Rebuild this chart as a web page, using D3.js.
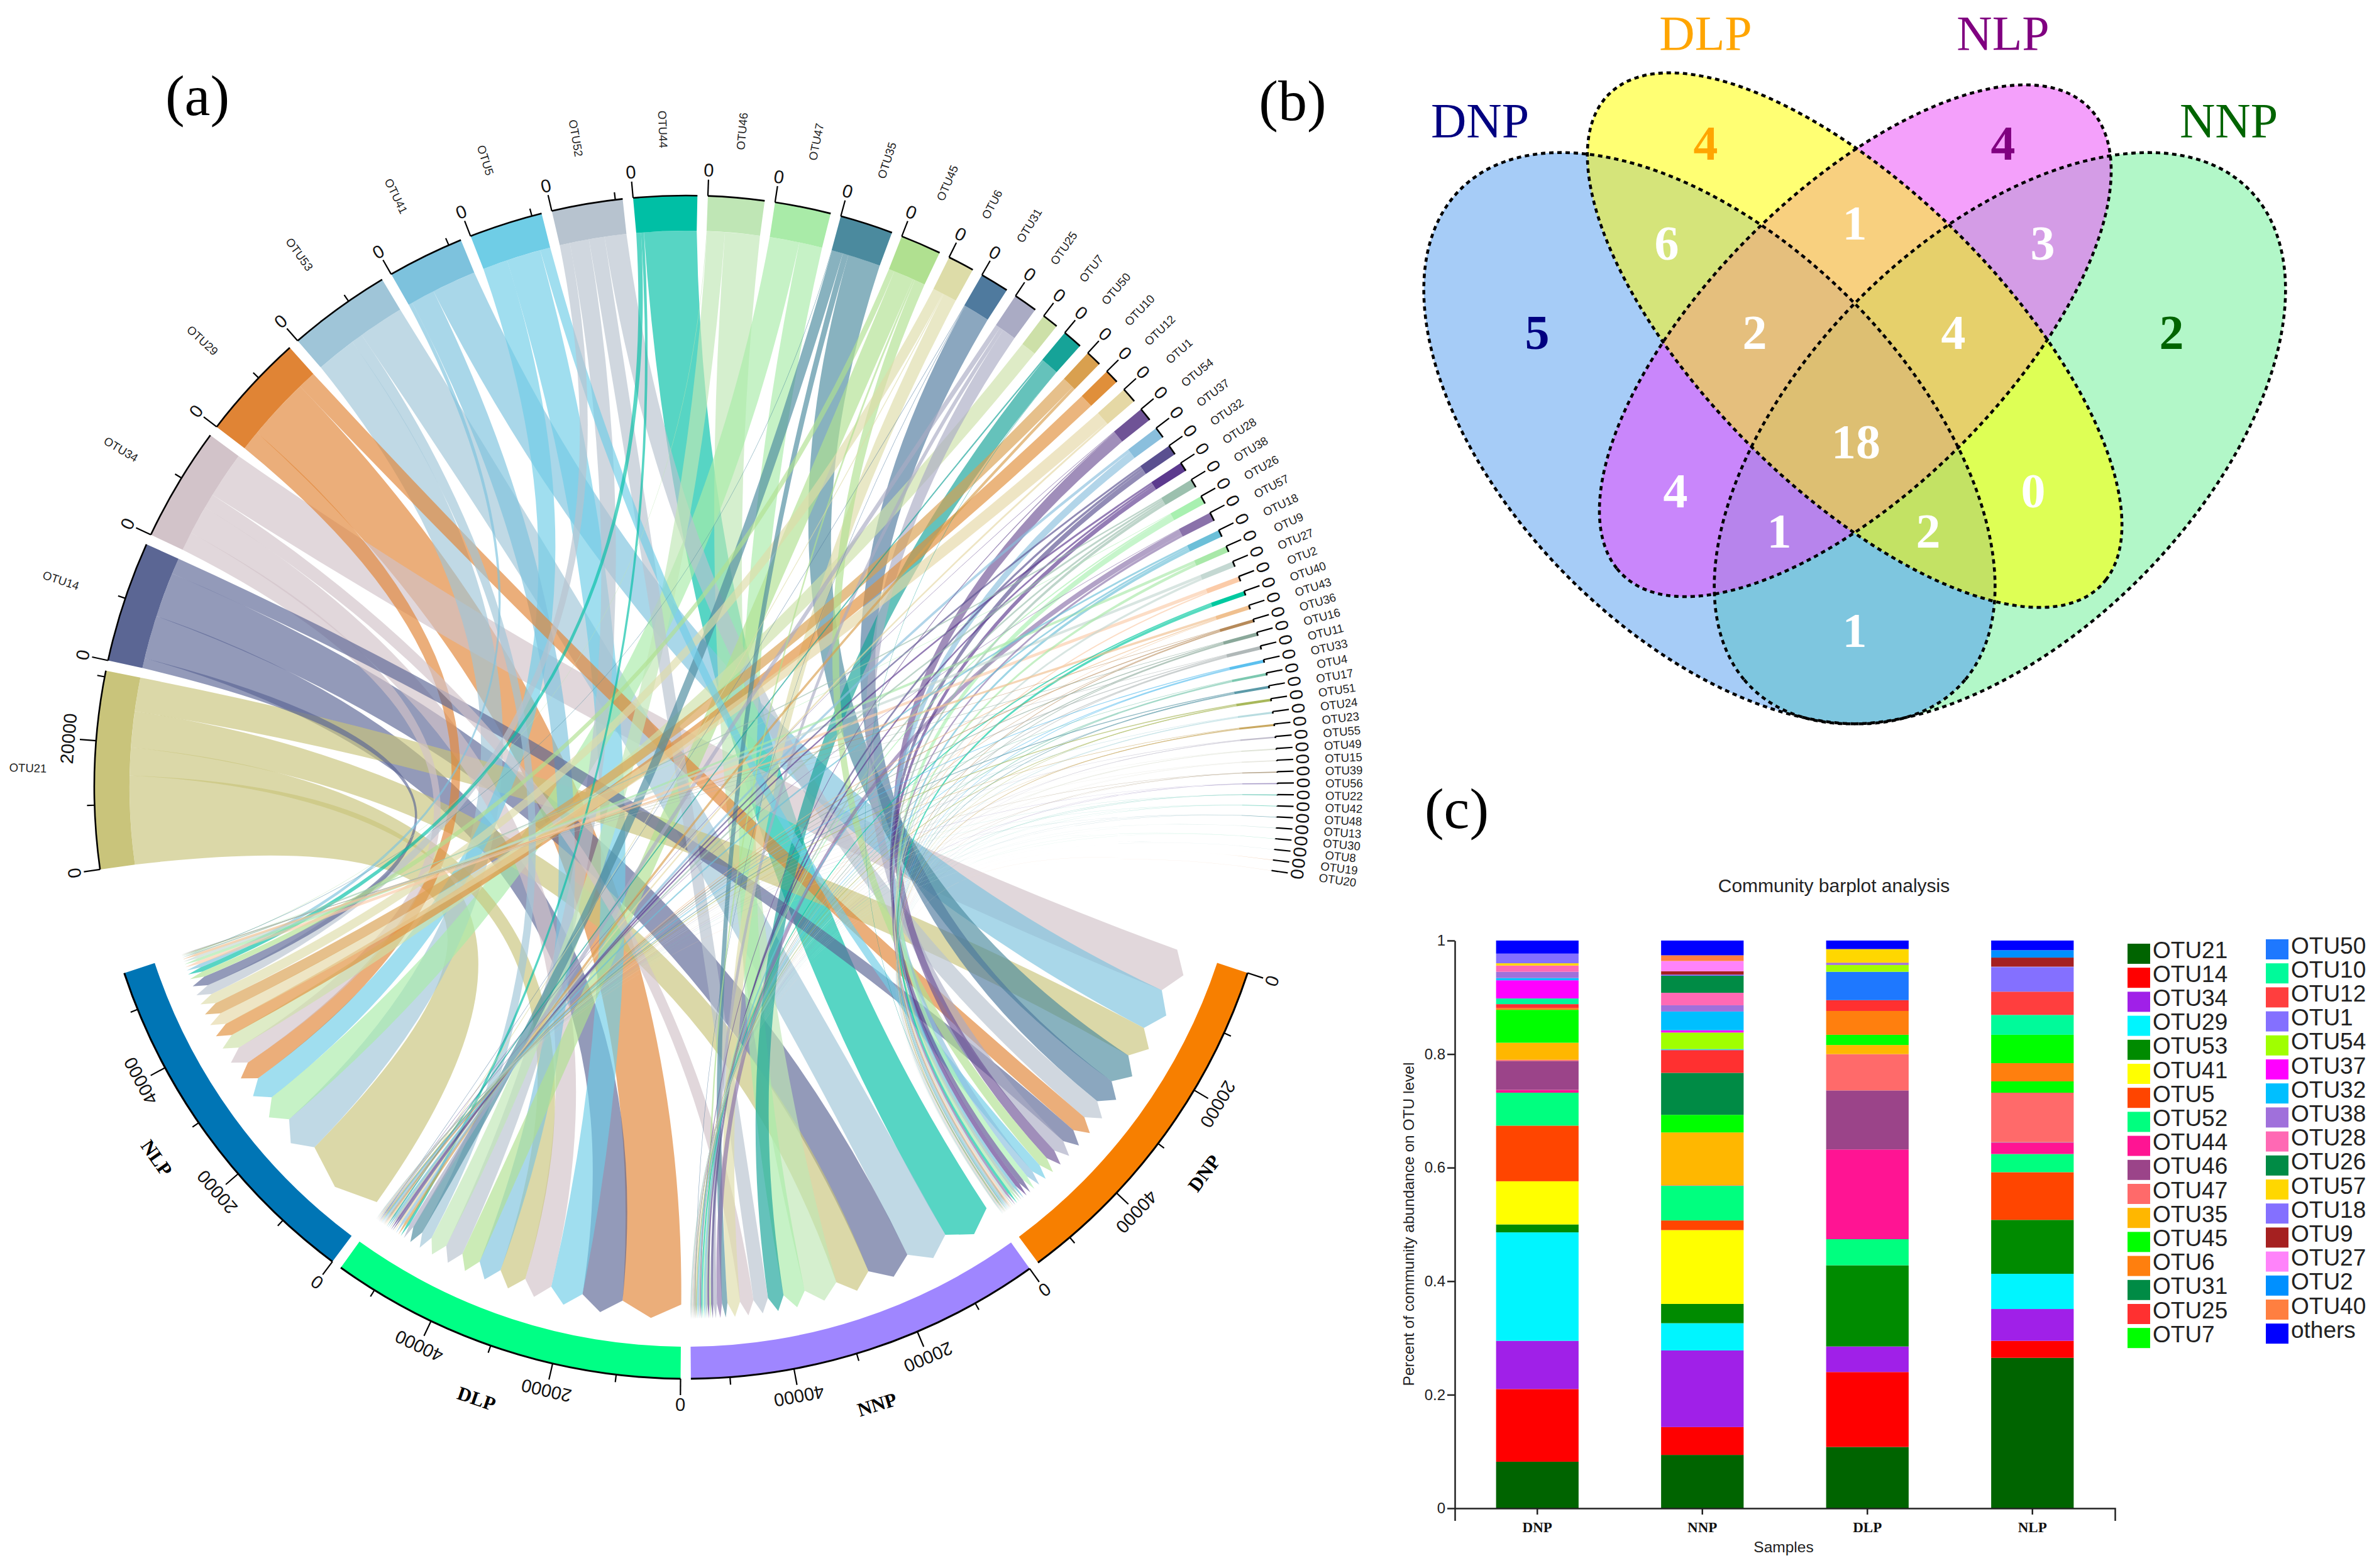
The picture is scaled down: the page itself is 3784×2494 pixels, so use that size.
<!DOCTYPE html>
<html><head><meta charset="utf-8">
<script src="https://cdn.jsdelivr.net/npm/d3@7/dist/d3.min.js"></script>
<style>html,body{margin:0;padding:0;background:#fff}svg{display:block}</style></head>
<body><svg id="c" width="3784" height="2494"></svg>
<script>
// ---------- panel (a) chord data ----------
const otuNames=["OTU21","OTU14","OTU34","OTU29","OTU53","OTU41","OTU5","OTU52","OTU44","OTU46","OTU47","OTU35","OTU45","OTU6","OTU31","OTU25","OTU7","OTU50","OTU10","OTU12","OTU1","OTU54","OTU37","OTU32","OTU28","OTU38","OTU26","OTU57","OTU18","OTU9","OTU27","OTU2","OTU40","OTU43","OTU36","OTU16","OTU11","OTU33","OTU4","OTU17","OTU51","OTU24","OTU23","OTU55","OTU49","OTU15","OTU39","OTU56","OTU22","OTU42","OTU48","OTU13","OTU30","OTU8","OTU19","OTU20"];
const otuColors=["#C9C47B","#5B6694","#D2C3C9","#E08435","#9FC5D8","#7DC2DD","#6FCDE6","#B7C3CF","#00BFA5","#BFE6B5","#A9EBA8","#4B8A9E","#B0E090","#DDDCA8","#4F7A9E","#AAABC4","#CDE0A8","#16A398","#D9A04F","#E08F3A","#E5D8A5","#6F5396","#8ABFDD","#5A5090","#5C3A8E","#9CC0AE","#A8F0B0","#8A72AA","#6CBFD8","#A8E8A8","#C4D8D2","#FBCBA8","#00C9A0","#F0C08F","#B68A5A","#8AA89A","#B0B8B8","#5CC0EE","#7CC8B0","#5C9AA8","#A8B85A","#B8DCE0","#C9A860","#C0BCCB","#E0E4D8","#E8E8E0","#B8A890","#A89CC8","#7CCFC0","#90DCCC","#8AB8C0","#D0E8E4","#C0EEDC","#D0E4E4","#F0C8A8","#F4DCC8"];
const dnpFlow=[5600,2650,7700,3000,0,7400,1700,3650,0,0,0,5450,1760,0,4350,2300,0,80,0,0,0,1900,1280,880,800,480,960,400,490,470,400,240,460,0,160,160,160,160,160,160,80,160,160,80,80,50,60,50,50,30,30,30,15,15,15,15];
const nnpFlow=[6000,7500,2400,0,7600,0,0,2600,8700,5800,3840,960,320,2240,80,640,0,2800,0,0,0,160,0,400,320,320,240,900,320,0,0,0,240,80,80,160,160,160,160,80,160,80,80,80,80,50,50,60,50,30,30,15,15,15,0,15];
const dlpFlow=[4640,7200,4800,10420,1900,4000,5700,3200,480,2960,0,1840,3360,160,80,800,0,240,480,0,320,80,480,320,320,320,0,100,320,0,0,0,0,160,160,160,160,160,80,160,160,80,80,80,30,60,50,50,30,30,15,15,15,0,15,0];
const nlpFlow=[14720,1650,3100,3300,6700,640,4160,1700,800,80,4960,80,960,1760,0,0,2560,0,2000,2240,2100,0,0,0,0,240,80,0,0,480,480,560,0,400,80,80,80,0,0,0,0,0,0,0,0,0,0,0,0,0,0,0,0,0,0,0];
const sampleNames=["DNP","NNP","DLP","NLP"];
const sampleColors=["#F77F00","#9F86FF","#00FF85","#0075B5"];
const sampleFlows=[dnpFlow,nnpFlow,dlpFlow,nlpFlow];
const tickStep=10000, labelStep=20000;

// ---------- panel (b) venn data ----------
const vennSets=["DNP","DLP","NLP","NNP"];
const vennLabelColors=["#000080","#FFA500","#800080","#006400"];
const vennRegionSets=[["DNP"],["DLP"],["NLP"],["NNP"],["DNP","DLP"],["DLP","NLP"],["NLP","NNP"],["DNP","NLP"],["DLP","NNP"],["DNP","NNP"],["DNP","DLP","NLP"],["DLP","NLP","NNP"],["DNP","NLP","NNP"],["DNP","DLP","NNP"],["DNP","DLP","NLP","NNP"]];
const vennRegionColors=["#A6CCF7","#FFFF73","#F4A0FB","#B2F7C8","#D5E47A","#F8D07F","#D49CE6","#C986FB","#DEFF55","#7EC6DF","#E5BF7D","#E6D06B","#B784EC","#C3E264","#DDBF72"];
const vennCounts=[5,4,4,2,6,1,3,4,0,1,2,4,1,2,18];

// ---------- panel (c) bar data ----------
const barSamples=["DNP","NNP","DLP","NLP"];
const barSeries=["OTU21","OTU14","OTU34","OTU29","OTU53","OTU41","OTU5","OTU52","OTU44","OTU46","OTU47","OTU35","OTU45","OTU6","OTU31","OTU25","OTU7","OTU50","OTU10","OTU12","OTU1","OTU54","OTU37","OTU32","OTU38","OTU28","OTU26","OTU57","OTU18","OTU9","OTU27","OTU2","OTU40","others"];
const barColors=["#006400","#FF0000","#A020E8","#00F5FF","#008B00","#FFFF00","#FF4500","#00FF7F","#FF1493","#9B4489","#FF6A6A","#FFB700","#00FF00","#FF7F0E","#008B45","#FF3030","#00FF00","#1E78FF","#00FA9A","#FF3E3E","#8470FF","#A0FF00","#FF00FF","#00BFFF","#A070DB","#FF69B4","#008B45","#FFD700","#8470FF","#A52020","#FF83FA","#0090FF","#FF7F40","#0000FF"];
const barDNP=[.082,.128,.085,.191,.014,.076,.098,.058,.005,.051,.002,.030,.058,.003,0,.007,0,0,.010,0,0,0,.032,.004,.011,.011,0,.004,.017,0,0,0,0,.023];
const barNNP=[.094,.049,.135,.048,.034,.130,.017,.061,0,0,.001,.093,.031,0,.074,.040,0,.001,.001,0,0,.029,.004,.033,.011,.022,.030,0,.002,.006,.018,0,.010,.026];
const barDLP=[.108,.132,.045,0,.143,0,0,.046,.158,.104,.064,.016,.018,.042,0,.019,0,.050,0,0,0,.012,0,0,.004,0,0,.024,0,0,0,0,0,.015];
const barNLP=[.265,.030,.056,.062,.095,0,.084,.032,.020,.001,.087,0,.020,.032,0,0,.050,0,.035,.041,.043,0,0,0,0,0,0,0,.001,.016,0,.013,0,.017];
const barValues=[barDNP,barNNP,barDLP,barNLP];
const barTicks=[0,.2,.4,.6,.8,1];

// ---------- drawing ----------
const svg=d3.select("#c");
const SANS="'Liberation Sans',Arial,sans-serif", SERIF="'Liberation Serif','Times New Roman',serif";
const rad=d=>d*Math.PI/180;

[["(a)",314,152],["(b)",2056,160],["(c)",2317,1286]].forEach(([t,x,y])=>
  svg.append("text").attr("x",x).attr("y",y).attr("text-anchor","middle").attr("dominant-baseline","central")
     .attr("font-family",SERIF).attr("font-size",92).attr("fill","#000").text(t));

// chord
const chord=svg.append("g").attr("transform","translate(1091,1252)");
const R=941, otuInner=885, sampleInner=890, linkBase=823, linkTip=846;
const degPerUnit=0.000625, otuGap=1.0135, sampleGap=1.0, otuStart=262, sampleStart=108.3;
const pt=(deg,r)=>[r*Math.sin(rad(deg)),-r*Math.cos(rad(deg))];

let sa=sampleStart;
const samples=sampleNames.map((n,i)=>{
  const total=d3.sum(sampleFlows[i]);
  const s={name:n,i,total,start:sa,end:sa+total*degPerUnit,color:sampleColors[i]};
  sa=s.end+sampleGap; return s;
});
let oa=otuStart;
const otus=otuNames.map((n,i)=>{
  const flows=sampleFlows.map(f=>f[i]);
  const total=d3.sum(flows);
  const o={name:n,i,flows,total,start:oa,end:oa+total*degPerUnit,color:otuColors[i]};
  oa=o.end+otuGap; return o;
});
const links=[];
otus.forEach(o=>{
  let a=o.start;
  [3,2,1,0].forEach(si=>{
    const v=o.flows[si]; if(!v) return;
    const w=v*degPerUnit;
    links.push({otu:o,si,v,a1:a,a2:a+w}); a+=w;
  });
});
samples.forEach(s=>{
  let b=s.start;
  links.filter(l=>l.si===s.i).sort((x,y)=>y.v-x.v).forEach(l=>{
    l.b1=b; l.b2=b+l.v*degPerUnit; b=l.b2;
  });
});
function linkPath(l){
  const p=d3.path();
  const a1=pt(l.a1,otuInner), a2=pt(l.a2,otuInner), b1=pt(l.b1,linkBase), b2=pt(l.b2,linkBase), tip=pt((l.b1+l.b2)/2,linkTip);
  // shared pull toward the centre, plus a spread that keeps the ribbon from pinching
  const mx=(a1[0]+a2[0]+b1[0]+b2[0])/4*0.06, my=(a1[1]+a2[1]+b1[1]+b2[1])/4*0.06;
  const sx=(a2[0]-a1[0]+b1[0]-b2[0])*0.13, sy=(a2[1]-a1[1]+b1[1]-b2[1])*0.13;
  p.moveTo(a1[0],a1[1]);
  p.arc(0,0,otuInner,rad(l.a1-90),rad(l.a2-90));
  p.quadraticCurveTo(mx+sx,my+sy,b1[0],b1[1]);
  p.lineTo(tip[0],tip[1]); p.lineTo(b2[0],b2[1]);
  p.quadraticCurveTo(mx-sx,my-sy,a1[0],a1[1]);
  p.closePath(); return p.toString();
}
chord.append("g").selectAll("path").data(links.slice().sort((x,y)=>y.v-x.v)).join("path")
  .attr("d",linkPath).attr("fill",l=>l.otu.color).attr("fill-opacity",.66);

const arcGen=d3.arc();
function band(sel,inner,outer){
  sel.attr("d",d=>arcGen({innerRadius:inner,outerRadius:outer,startAngle:rad(d.start),endAngle:rad(d.end)})).attr("fill",d=>d.color);
}
chord.append("g").selectAll("path").data(otus).join("path").call(band,otuInner,R);
chord.append("g").selectAll("path").data(samples).join("path").call(band,sampleInner,R);
function axis(d,isSample){
  const g=chord.append("g");
  const arcLine=d3.path(); arcLine.arc(0,0,R,rad(d.start-90),rad(d.end-90));
  g.append("path").attr("d",arcLine.toString()).attr("fill","none").attr("stroke","#000").attr("stroke-width",isSample?3:2.6);
  d3.range(0,d.total+1,tickStep).forEach(v=>{
    const a=d.start+v*degPerUnit, major=v%labelStep===0;
    const p0=pt(a,R), p1=pt(a,R+(major?26:12));
    g.append("line").attr("x1",p0[0]).attr("y1",p0[1]).attr("x2",p1[0]).attr("y2",p1[1]).attr("stroke","#000").attr("stroke-width",2.2);
    if(major){
      const p=pt(a,R+(v===0?41:44));
      g.append("text").attr("transform",`translate(${p[0]},${p[1]}) rotate(${a})`)
        .attr("text-anchor","middle").attr("dominant-baseline","central")
        .attr("font-family",SANS).attr("font-size",29).attr("fill","#111").text(v);
    }
  });
}
otus.forEach(o=>axis(o,false));
samples.forEach(s=>axis(s,true));
otus.forEach(o=>{
  const m=(o.start+o.end)/2, p=pt(m,1047), na=((m%360)+360)%360;
  const rot=na<180?na-90:na+90;
  chord.append("text").attr("transform",`translate(${p[0]},${p[1]}) rotate(${rot})`)
    .attr("text-anchor","middle").attr("dominant-baseline","central")
    .attr("font-family",SANS).attr("font-size",18.5).attr("fill","#222").text(o.name);
});
samples.forEach(s=>{
  const m=(s.start+s.end)/2+0.8, p=pt(m,1028);
  chord.append("text").attr("transform",`translate(${p[0]},${p[1]}) rotate(${m-180})`)
    .attr("text-anchor","middle").attr("dominant-baseline","central")
    .attr("font-family",SERIF).attr("font-weight","bold").attr("font-size",31).attr("fill","#000").text(s.name);
});

// venn
const vennShapes={
  DNP:{cx:2719,cy:697,a:560,b:315,theta:45,m:1},
  NNP:{cx:3181,cy:697,a:560,b:315,theta:45,m:-1},
  DLP:{cx:2950,cy:541,a:553,b:236,theta:45,m:1},
  NLP:{cx:2951,cy:542,a:525,b:236,theta:45,m:-1}
};
function vennPath(s){
  const U=[Math.cos(rad(s.theta))*s.m,Math.sin(rad(s.theta))], V=[Math.sin(rad(s.theta))*s.m,-Math.cos(rad(s.theta))];
  const pts=d3.range(0,360,3).map(t=>{
    const x=s.a*Math.cos(rad(t)), y=s.b*Math.sin(rad(t));
    return [s.cx+x*U[0]+y*V[0],s.cy+x*U[1]+y*V[1]];
  });
  return d3.line().curve(d3.curveCardinalClosed)(pts);
}
const defs=svg.append("defs");
vennSets.forEach(n=>defs.append("clipPath").attr("id","clip"+n).append("path").attr("d",vennPath(vennShapes[n])));
const venn=svg.append("g");
vennRegionSets.forEach((sets,i)=>{
  let g=venn;
  sets.slice(0,-1).forEach(n=>{g=g.append("g").attr("clip-path",`url(#clip${n})`);});
  g.append("path").attr("d",vennPath(vennShapes[sets[sets.length-1]])).attr("fill",vennRegionColors[i]);
});
vennSets.forEach(n=>venn.append("path").attr("d",vennPath(vennShapes[n])).attr("fill","none").attr("stroke","#000").attr("stroke-width",4.6).attr("stroke-dasharray","7 6"));
const vennLabelPos=[[2354,191],[2713,52],[3186,52],[3545,191]];
vennSets.forEach((n,i)=>venn.append("text").attr("x",vennLabelPos[i][0]).attr("y",vennLabelPos[i][1]).attr("text-anchor","middle").attr("dominant-baseline","central")
  .attr("font-family",SERIF).attr("font-size",78).attr("fill",vennLabelColors[i]).text(n));
const vennCountPos=[[2445,528],[2713,227],[3186,227],[3454,528],[2651,386],[2950,354],[3249,386],[2665,780],[3234,780],[2950,1002],[2791,528],[3107,528],[2830,844],[3067,844],[2952,702]];
const vennCountColors=["#000080","#FFA500","#800080","#006400"];
vennCounts.forEach((c,i)=>venn.append("text").attr("x",vennCountPos[i][0]).attr("y",vennCountPos[i][1]).attr("text-anchor","middle").attr("dominant-baseline","central")
  .attr("font-family",SERIF).attr("font-weight","bold").attr("font-size",78).attr("fill",vennCountColors[i]||"#fff").text(c));

// bars
const bar=svg.append("g");
const x=d3.scaleBand().domain(barSamples).range([2314,3364]).paddingInner(.5).paddingOuter(.25);
const y=d3.scaleLinear().domain([0,1]).range([2399,1496]);
barSamples.forEach((s,si)=>{
  let acc=0;
  barValues[si].forEach((v,k)=>{
    if(v>0) bar.append("rect").attr("x",x(s)).attr("width",x.bandwidth()).attr("y",y(acc+v)).attr("height",y(acc)-y(acc+v)).attr("fill",barColors[k]);
    acc+=v;
  });
});
const ya=bar.append("g").attr("transform","translate(2314,0)").call(d3.axisLeft(y).tickValues(barTicks).tickFormat(d=>d).tickSize(12).tickSizeOuter(0));
ya.selectAll("text").attr("font-family",SANS).attr("font-size",24).attr("fill","#222");
ya.selectAll("line,path").attr("stroke","#222").attr("stroke-width",2.5);
const xa=bar.append("g").attr("transform","translate(0,2399)").call(d3.axisBottom(x).tickSize(10).tickSizeOuter(20).tickPadding(12));
xa.selectAll("text").attr("font-family",SERIF).attr("font-weight","bold").attr("font-size",23).attr("fill","#111");
xa.selectAll("line,path").attr("stroke","#222").attr("stroke-width",2.5);
bar.append("text").attr("x",2917).attr("y",1408).attr("text-anchor","middle").attr("dominant-baseline","central").attr("font-family",SANS).attr("font-size",30).attr("fill","#222").text("Community barplot analysis");
bar.append("text").attr("x",2837).attr("y",2460).attr("text-anchor","middle").attr("dominant-baseline","central").attr("font-family",SANS).attr("font-size",24.5).attr("fill","#222").text("Samples");
bar.append("text").attr("transform","translate(2240,1947) rotate(-90)").attr("text-anchor","middle").attr("dominant-baseline","central").attr("font-family",SANS).attr("font-size",24.5).attr("fill","#222").text("Percent of community abundance on OTU level");
barSeries.forEach((n,i)=>{
  const col=i<17?0:1, r=i<17?i:i-17;
  const sx=col?3604:3384, sy=(col?1510:1517)+r*38.2;
  bar.append("rect").attr("x",sx).attr("y",sy-16).attr("width",36).attr("height",32).attr("fill",barColors[i]);
  bar.append("text").attr("x",sx+40).attr("y",sy-6).attr("dominant-baseline","central").attr("font-family",SANS).attr("font-size",37).attr("fill","#222").text(n);
});
</script></body></html>
